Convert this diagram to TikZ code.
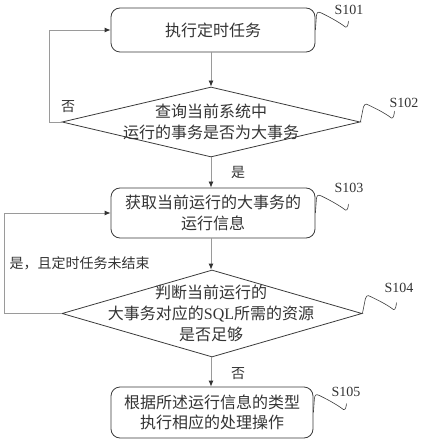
\documentclass[tikz,border=0pt]{standalone}
\usepackage{fontspec}
\setmainfont{Liberation Serif}
\newfontfamily\cjk{Noto Sans CJK SC}
\usetikzlibrary{shapes.geometric,arrows.meta}
\definecolor{edgecol}{HTML}{3A3A3A}
\definecolor{conncol}{HTML}{9A9A9A}
\definecolor{inkcol}{HTML}{333333}
\begin{document}
\begin{tikzpicture}[x=1pt,y=-1pt,
  box/.style={draw=edgecol, line width=0.8pt, rounded corners=9pt, minimum width=204pt, inner sep=0pt},
  dia/.style={draw=edgecol, line width=0.8pt, diamond, inner sep=0pt},
  txt/.style={font=\cjk\fontsize{16}{21}\selectfont, text=inkcol, align=center},
  lbl/.style={font=\cjk\fontsize{14}{16}\selectfont, text=inkcol},
  slabel/.style={font=\fontsize{14}{16}\selectfont, text=inkcol},
  conn/.style={draw=conncol, line width=0.8pt, -{Latex[length=6pt,width=5pt,color=inkcol]}},
  sq/.style={draw=edgecol, line width=0.6pt}
]
\useasboundingbox (0,0) rectangle (422,443);

% shapes
\node[box, minimum height=44pt] (b1) at (213,30) {};
\node[txt] (t1) at (b1) {执行定时任务};
\node[dia, minimum width=298pt, minimum height=70pt] (d1) at (211,122) {};
\node[txt] (t2) at (211,122) {查询当前系统中\\运行的事务是否为大事务};
\node[box, minimum height=50pt] (b3) at (213,213) {};
\node[txt] (t3) at (b3) {获取当前运行的大事务的\\运行信息};
\node[dia, minimum width=300pt, minimum height=87pt] (d2) at (212,313.5) {};
\node[txt] (t4) at (211,313) {判断当前运行的\\大事务对应的{\rmfamily SQL}所需的资源\\是否足够};
\node[box, minimum width=202pt, minimum height=51pt] (b5) at (212,412.5) {};
\node[txt, font=\cjk\fontsize{16}{19.5}\selectfont] (t5) at (b5) {根据所述运行信息的类型\\执行相应的处理操作};

% connectors
\draw[conn] (b1.south -| d1.north) -- (d1.north);
\draw[conn] (d1.south) -- (d1.south |- b3.north);
\draw[conn] (b3.south -| d1.north) -- (d1.north |- d2.north);
\draw[conn] (d2.south -| d1.north) -- (d1.north |- b5.north);
\coordinate (c1) at (49,122);
\draw[conn] (d1.west) -- (c1) |- (b1.west);
\coordinate (c2) at (4,313.5);
\draw[conn] (d2.west) -- (c2) |- (b3.west);

% connector labels
\node[lbl] (n1) at (68,107) {否};
\node[lbl] (y1) at (238,172) {是};
\node[lbl, anchor=west] (y2) at (6,263) {是，且定时任务未结束};
\node[lbl] (n2) at (238,374) {否};

% step squiggles
\draw[sq] (b1.east) -- ++(1,-14) .. controls +(0.5,-3) and +(-4,-2) .. ++(5,-3) .. controls +(6,3) and +(-8,-6) .. ++(24,14) .. controls +(2,1) and +(0,3) .. ++(3,-6);
\draw[sq] (d1.east) -- ++(3,-15) .. controls +(0.5,-2) and +(-3,-2) .. ++(5,-2) .. controls +(6,3) and +(-8,-6) .. ++(23,13) .. controls +(2,1) and +(0,3) .. ++(3,-7);
\draw[sq] (b3.east) -- ++(1,-14) .. controls +(0.5,-3) and +(-4,-2) .. ++(5,-3) .. controls +(6,3) and +(-8,-6) .. ++(24,14) .. controls +(2,1) and +(0,3) .. ++(3,-6);
\draw[sq] (d2.east) -- ++(3,-15) .. controls +(0.5,-2) and +(-3,-2) .. ++(5,-2) .. controls +(6,3) and +(-8,-6) .. ++(23,13) .. controls +(2,1) and +(0,3) .. ++(3,-7);
\draw[sq] (b5.east) -- ++(1,-14) .. controls +(0.5,-3) and +(-4,-2) .. ++(5,-3) .. controls +(6,3) and +(-8,-6) .. ++(24,14) .. controls +(2,1) and +(0,3) .. ++(3,-6);

% step labels
\node[slabel] (s1) at (349,10) {S101};
\node[slabel] (s2) at (404,103) {S102};
\node[slabel] (s3) at (349,188) {S103};
\node[slabel] (s4) at (399,288) {S104};
\node[slabel] (s5) at (346,392) {S105};
\end{tikzpicture}
\end{document}
